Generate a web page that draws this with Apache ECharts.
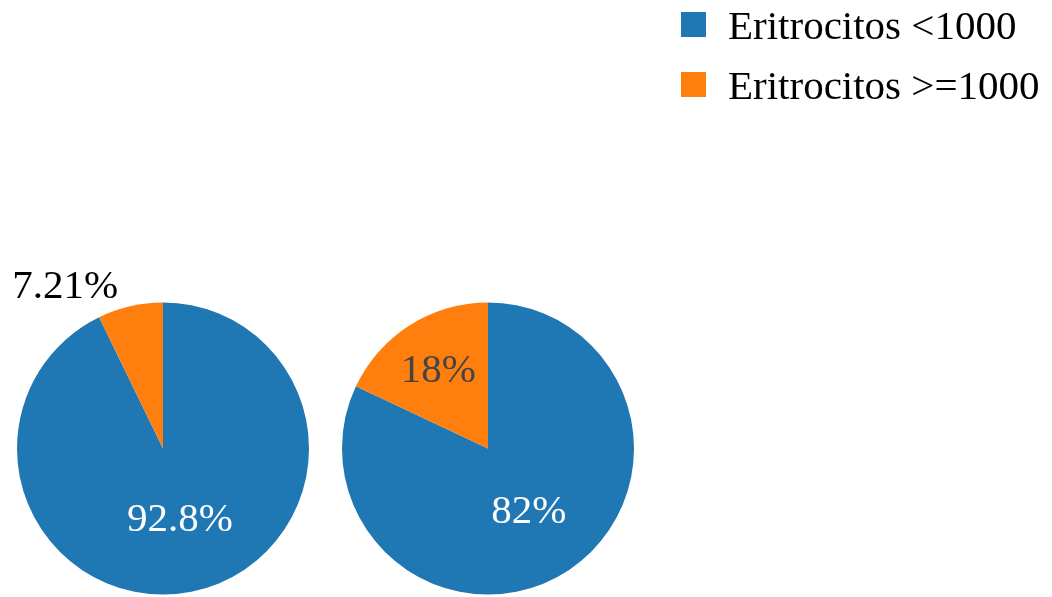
<!DOCTYPE html>
<html>
<head>
<meta charset="utf-8">
<script src="https://cdn.jsdelivr.net/npm/echarts@6/dist/echarts.min.js"></script>
<style>
  html, body { margin: 0; padding: 0; background: #fff; }
  #chart { width: 1052px; height: 597px; }
</style>
</head>
<body>
<div id="chart"></div>
<script>
// Category names shared by both pies
const categories = ['Eritrocitos <1000', 'Eritrocitos >=1000'];
// Share of each category (%) in the two groups
const groupA = [92.79, 7.21];
const groupB = [82, 18];

const colors = ['#1f77b4', '#ff7f0e'];
const serif = "'Liberation Serif', 'Times New Roman', serif";

// Plotly-like percentage text: three significant digits, no trailing zeros
function pct(v) {
  return Number(v.toPrecision(3)) + '%';
}

function makeData(values, labelStyles) {
  return values.map((v, i) => ({
    name: categories[i],
    value: v,
    itemStyle: { color: colors[i] },
    label: labelStyles[i]
  }));
}

const chart = echarts.init(document.getElementById('chart'), null, { renderer: 'canvas' });

const baseLabel = { fontFamily: serif, fontSize: 41 };

// Square swatch sitting in the upper part of its box, so it rides a bit above the text centre
const swatch = 'path://M0,0H25V25H0Z M12,33h0.001v0.001h-0.001Z';

chart.setOption({
  animation: false,
  backgroundColor: '#ffffff',
  legend: {
    orient: 'vertical',
    left: 676,
    top: 3,
    itemWidth: 25,
    itemHeight: 33,
    itemGap: 19,
    icon: swatch,
    data: categories,
    textStyle: {
      fontFamily: serif,
      fontSize: 41,
      lineHeight: 41,
      color: '#000',
      padding: [0, 0, 0, 17]
    }
  },
  series: [
    {
      type: 'pie',
      center: [163, 448.5],
      radius: [0, 146],
      startAngle: 90,
      clockwise: true,
      labelLine: { show: false, length: 0, length2: 0 },
      label: Object.assign({ formatter: p => pct(p.value) }, baseLabel),
      data: makeData(groupA, [
        { position: 'inside', color: '#fff', offset: [0, -2] },
        { position: 'outside', color: '#000', offset: [-7, -19] }
      ])
    },
    {
      type: 'pie',
      center: [488, 448.5],
      radius: [0, 146],
      startAngle: 90,
      clockwise: true,
      labelLine: { show: false },
      label: Object.assign({ formatter: p => pct(p.value) }, baseLabel),
      data: makeData(groupB, [
        { position: 'inside', color: '#fff' },
        { position: 'inside', color: '#444', offset: [-9, -13] }
      ])
    }
  ]
});
</script>
</body>
</html>
